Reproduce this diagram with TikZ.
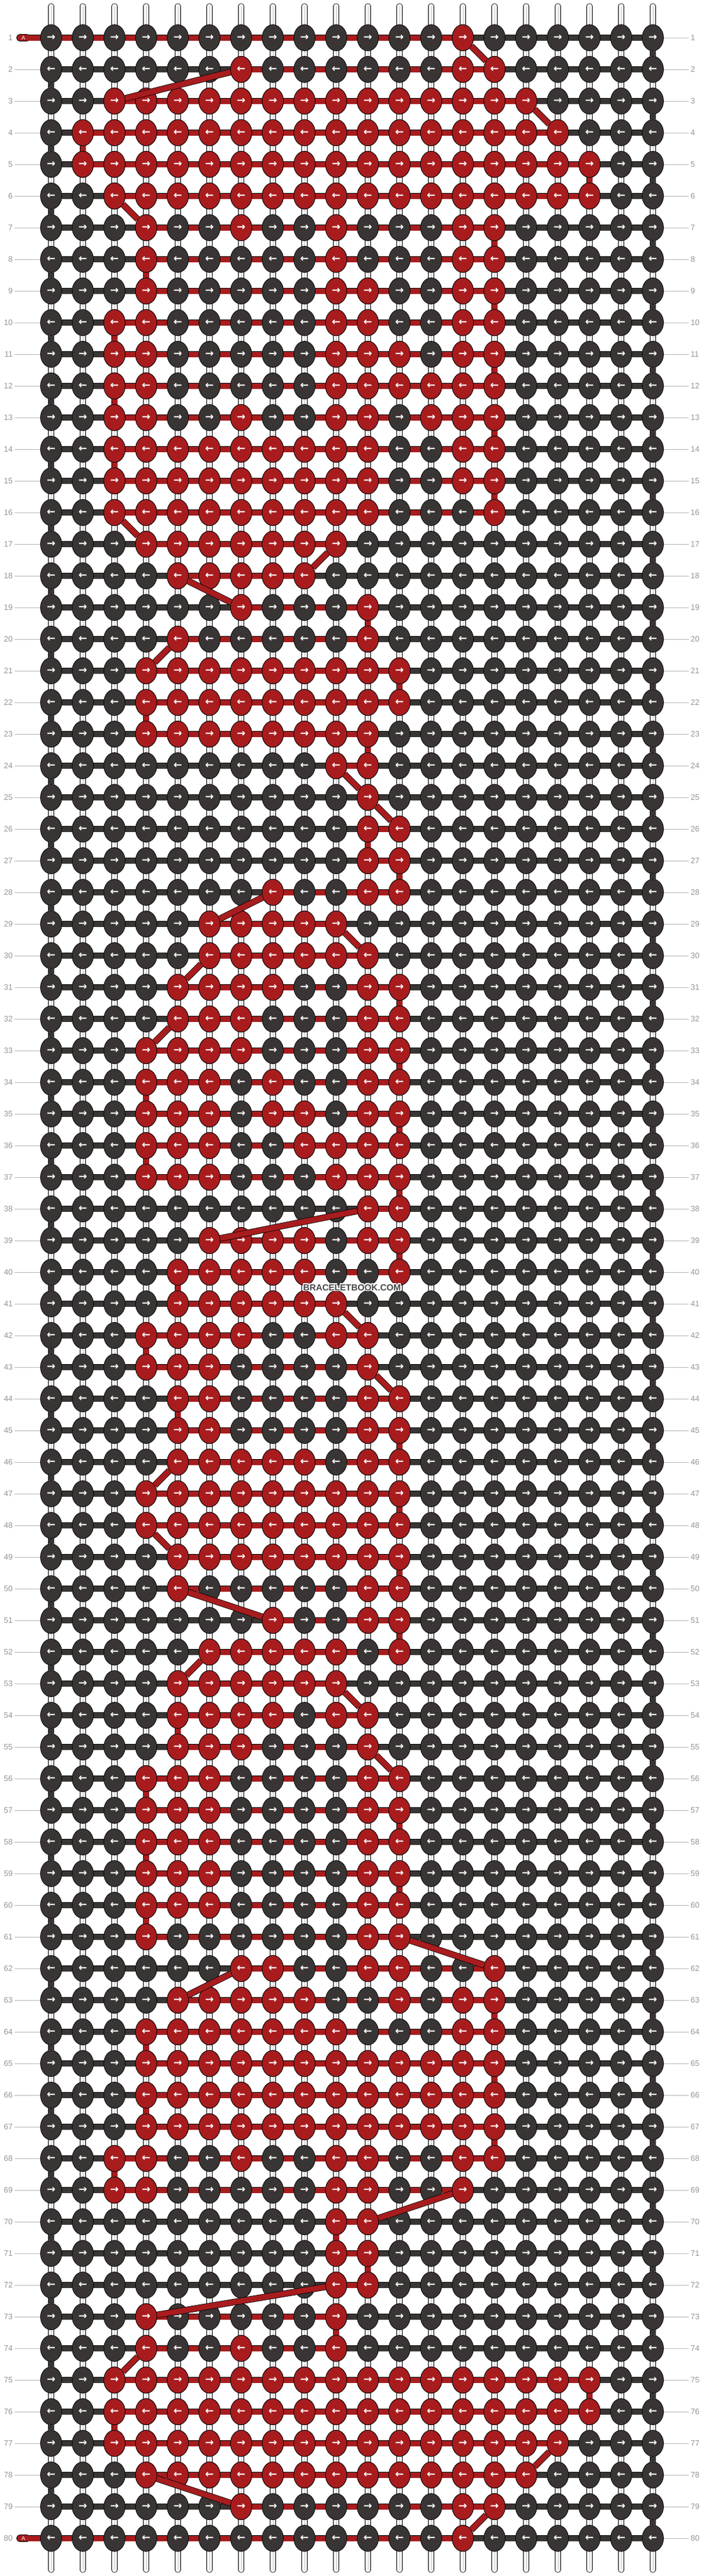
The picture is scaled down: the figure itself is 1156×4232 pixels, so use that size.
\documentclass[tikz,border=0pt]{standalone}
\usepackage{fontspec}
\setmainfont{Liberation Sans}
\newfontfamily\arrowfont{DejaVu Sans}
\usetikzlibrary{shapes.geometric}
\definecolor{knotdark}{RGB}{57,53,52}
\definecolor{knotred}{RGB}{168,28,30}
\definecolor{numgray}{RGB}{150,150,150}
\definecolor{brandgray}{RGB}{72,72,72}
\pgfdeclarelayer{strings}
\pgfdeclarelayer{bands}
\pgfdeclarelayer{over}
\pgfsetlayers{strings,bands,main,over}
\tikzset{
    knot/.style = {ellipse, draw=black, line width=0.8pt, minimum width=35pt, minimum height=43pt, inner sep=0pt, text=white, font=\arrowfont\bfseries\fontsize{17}{17}\selectfont},
    knot-dark/.style = {knot, fill=knotdark},
    knot-red/.style = {knot, fill=knotred},
    band-dark/.style = {draw=black, line width=0.8pt, double=knotdark, double distance=9pt},
    band-red/.style = {draw=black, line width=0.8pt, double=knotred, double distance=9pt},
    string/.style = {draw=black, line width=0.8pt, double=white, double distance=7.5pt, line cap=round},
    string-core/.style = {draw=black!25, line width=0.8pt},
    row-num/.style = {text=numgray, font=\fontsize{13}{13}\selectfont, inner sep=3pt},
    num-line/.style = {draw=black!28, line width=1pt},
    start-tag/.style = {rectangle, rounded corners=5pt, draw=black, line width=0.8pt, fill=knotred, minimum width=22pt, minimum height=11pt, inner sep=0pt, text=white, font=\fontsize{9}{9}\selectfont, anchor=west},
    brand-mark/.style = {inner sep=0pt, font=\bfseries\fontsize{14.5}{14.5}\selectfont},
}
\newcommand\knotarrow[1]{\ifodd#1\relax →\else ←\fi}
% row / knot where the red thread comes in / knot where it leaves
\def\rowends{1/0/14, 2/15/7, 3/3/16, 4/17/2, 5/2/18, 6/18/3, 7/4/15, 8/15/4,
    9/4/15, 10/15/3, 11/3/15, 12/15/3, 13/3/15, 14/15/3, 15/3/15, 16/15/3,
    17/4/10, 18/9/5, 19/7/11, 20/11/5, 21/4/12, 22/12/4, 23/4/11, 24/11/10,
    25/11/11, 26/12/11, 27/11/12, 28/12/8, 29/6/10, 30/11/6, 31/5/12, 32/12/5,
    33/4/12, 34/12/4, 35/4/12, 36/12/4, 37/4/12, 38/12/11, 39/6/12, 40/12/5,
    41/5/10, 42/11/4, 43/4/11, 44/12/5, 45/5/12, 46/12/5, 47/4/12, 48/12/4,
    49/5/12, 50/12/5, 51/8/12, 52/12/6, 53/5/10, 54/11/5, 55/5/11, 56/12/4,
    57/4/12, 58/12/4, 59/4/12, 60/12/4, 61/4/12, 62/15/7, 63/5/15, 64/15/4,
    65/4/15, 66/15/4, 67/4/15, 68/15/3, 69/3/14, 70/11/10, 71/10/11, 72/11/10,
    73/4/10, 74/10/4, 75/3/18, 76/18/3, 77/3/17, 78/16/4, 79/7/15, 80/14/0}

\begin{document}
\begin{tikzpicture}[x=1pt, y=-1pt]
\useasboundingbox (0,0) rectangle (1156,4232);

% knots, all in the ground colour first
\foreach \kr in {1,...,80} {
    \foreach \kc in {1,...,20}
        \node[knot-dark] (k-\kr-\kc) at ({84+52*(\kc-1)}, {62+52*(\kr-1)}) {\knotarrow{\kr}};
    \node[row-num, anchor=east] (num-l-\kr) at (24, {62+52*(\kr-1)}) {\kr};
    \node[row-num, anchor=west] (num-r-\kr) at (1131, {62+52*(\kr-1)}) {\kr};
    \draw[num-line] (k-\kr-20) -- (num-r-\kr);
}
\foreach \kr in {2,...,79}
    \draw[num-line] (num-l-\kr) -- (k-\kr-1);

% red knots on top: row / from / to
\foreach \rowno/\cfrom/\cto in {1/14/14, 2/7/7, 2/14/15, 3/3/16, 4/2/17, 5/2/18, 6/3/18,
    7/4/4, 7/7/7, 7/10/10, 7/14/15, 8/4/4, 8/10/10, 8/14/15,
    9/4/4, 9/10/11, 9/14/15, 10/3/4, 10/10/11, 10/14/15,
    11/3/4, 11/10/12, 11/14/15, 12/3/4, 12/10/15,
    13/3/4, 13/7/7, 13/10/11, 13/13/15, 14/3/11, 14/14/15,
    15/3/11, 15/14/15, 16/3/11, 16/15/15, 17/4/10, 18/5/9,
    19/7/7, 19/11/11, 20/5/5, 20/11/11, 21/4/12, 22/4/12, 23/4/11, 24/10/11,
    25/11/11, 26/11/12, 27/11/12, 28/8/8, 28/11/12, 29/6/10, 30/6/11,
    31/5/8, 31/11/12, 32/5/7, 32/11/12, 33/4/7, 33/11/12,
    34/4/6, 34/8/8, 34/11/12, 35/4/6, 35/8/9, 35/11/12,
    36/4/6, 36/9/12, 37/4/6, 37/10/12, 38/11/12, 39/6/9, 39/11/12,
    40/5/9, 40/12/12, 41/5/10, 42/4/7, 42/10/11, 43/4/6, 43/11/11,
    44/5/6, 44/11/12, 45/5/6, 45/11/12, 46/5/9, 46/11/12,
    47/4/12, 48/4/12, 49/5/12, 50/5/5, 50/11/12, 51/8/8, 51/11/12,
    52/6/10, 52/12/12, 53/5/10, 54/5/8, 54/10/11, 55/5/7, 55/11/11,
    56/4/6, 56/11/12, 57/4/6, 57/11/12, 58/4/6, 58/11/12,
    59/4/6, 59/11/12, 60/4/6, 60/11/12, 61/4/4, 61/11/12,
    62/7/8, 62/11/12, 62/15/15, 63/5/9, 63/12/12, 63/14/15,
    64/4/10, 64/14/15, 65/4/15, 66/4/15, 67/4/15,
    68/3/4, 68/7/7, 68/10/11, 68/14/15, 69/3/4, 69/10/11, 69/14/14,
    70/10/11, 71/10/11, 72/10/11, 73/4/4, 73/10/10,
    74/4/4, 74/7/7, 74/10/10, 75/3/18, 76/3/18, 77/3/17, 78/4/16,
    79/7/7, 79/14/15, 80/14/14} {
    \foreach \kc in {\cfrom,...,\cto}
        \node[knot-red] (k-\rowno-\kc) at ({84+52*(\kc-1)}, {62+52*(\rowno-1)}) {\knotarrow{\rowno}};
}

% vertical strings
\begin{pgfonlayer}{strings}
\foreach \kc in {1,...,20} {
    \coordinate (s-top-\kc) at ({84+52*(\kc-1)}, 10);
    \coordinate (s-bot-\kc) at ({84+52*(\kc-1)}, 4222);
    \draw[string] (s-top-\kc) -- (s-bot-\kc);
    \draw[string-core] (s-top-\kc) -- (s-bot-\kc);
}
\end{pgfonlayer}

% working threads
\begin{pgfonlayer}{bands}
\foreach \kr in {1,...,80}
    \draw[band-dark] (k-\kr-1.center) -- (k-\kr-20.center);
\foreach \kr [count=\nextrow from 2] in {1,...,79} {
    \ifodd\kr\relax \draw[band-dark] (k-\kr-20) -- (k-\nextrow-20);
    \else \draw[band-dark] (k-\kr-1) -- (k-\nextrow-1); \fi
}
\node[start-tag] (tag-top) at (27, 62) {A};
\node[start-tag] (tag-bot) at (27, 4170) {A};
\coordinate (k-1-0) at ([xshift=-4pt]tag-top.east);
\coordinate (k-80-0) at ([xshift=-4pt]tag-bot.east);
\foreach \rowno/\rbeg/\rend in \rowends
    \draw[band-red] (k-\rowno-\rbeg.center) -- (k-\rowno-\rend.center);
\end{pgfonlayer}

% red thread passing from row to row
\begin{pgfonlayer}{over}
\foreach \rowno/\rbeg/\rend in \rowends {
    \ifnum\rowno>1 \draw[band-red] (k-\prevrow-\prevend) -- (k-\rowno-\rbeg); \fi
    \xdef\prevrow{\rowno}\xdef\prevend{\rend}
}
\foreach \ang in {0,45,...,315}
    \node[brand-mark, text=white] at ([shift={(\ang:1.6pt)}]578, 2115) {BRACELETBOOK.COM};
\node[brand-mark, text=brandgray] (brand) at (578, 2115) {BRACELETBOOK.COM};
\end{pgfonlayer}
\end{tikzpicture}
\end{document}
